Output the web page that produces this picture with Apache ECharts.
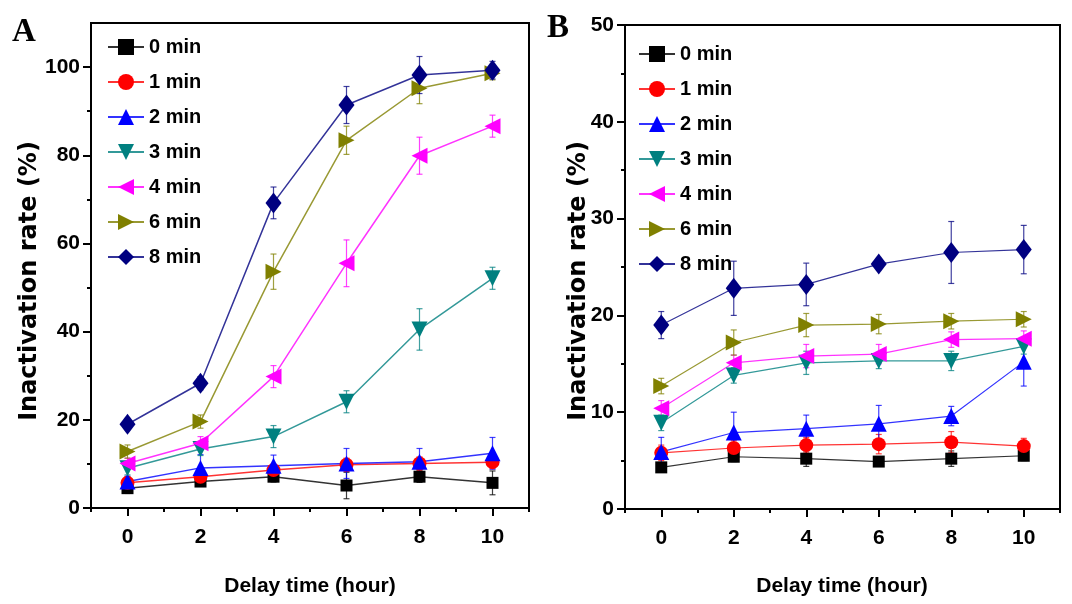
<!DOCTYPE html>
<html>
<head>
<meta charset="utf-8">
<script src="https://cdn.jsdelivr.net/npm/echarts@6/dist/echarts.min.js"></script>
<style>
html, body { margin: 0; padding: 0; background: #fff; }
#chart { width: 1072px; height: 604px; }
</style>
</head>
<body>
<div id="chart"></div>
<script>
// x values and tick labels
var hours = [0, 2, 4, 6, 8, 10];
var seriesNames = ['0 min', '1 min', '2 min', '3 min', '4 min', '6 min', '8 min'];
var xTicks = [0, 2, 4, 6, 8, 10];
var xMinorTicks = [-1, 1, 3, 5, 7, 9, 11];
var yTicksA = [0, 20, 40, 60, 80, 100];
var yMinorTicksA = [10, 30, 50, 70, 90];
var yTicksB = [0, 10, 20, 30, 40, 50];
var yMinorTicksB = [5, 15, 25, 35, 45];

// panel A (means and error bars, %)
var a0 = [4.5, 6.0, 7.1, 5.1, 7.1, 5.7];
var a0Err = [1.2, 1.0, 1.2, 3.0, 1.3, 2.7];
var a1 = [5.7, 7.1, 8.6, 9.8, 10.1, 10.4];
var a1Err = [1.0, 1.2, 1.2, 1.5, 1.5, 1.5];
var a2 = [6.0, 9.1, 9.6, 10.1, 10.5, 12.4];
var a2Err = [1.2, 3.0, 2.4, 3.4, 3.0, 3.6];
var a3 = [9.0, 13.4, 16.2, 24.1, 40.5, 52.1];
var a3Err = [1.5, 1.5, 2.5, 2.5, 4.7, 2.5];
var a4 = [10.1, 14.7, 29.8, 55.5, 79.9, 86.6];
var a4Err = [1.2, 1.5, 2.5, 5.3, 4.2, 2.5];
var a6 = [12.8, 19.6, 53.6, 83.4, 95.2, 98.6];
var a6Err = [1.5, 1.5, 4.0, 3.2, 3.5, 1.5];
var a8 = [19.0, 28.3, 69.2, 91.4, 98.2, 99.3];
var a8Err = [1.2, 1.5, 3.6, 4.2, 4.2, 2.0];

// panel B
var b0 = [4.3, 5.4, 5.2, 4.9, 5.2, 5.5];
var b0Err = [0.5, 0.5, 0.8, 0.5, 0.8, 0.5];
var b1 = [5.8, 6.3, 6.6, 6.7, 6.9, 6.5];
var b1Err = [0.8, 0.8, 0.8, 1.0, 1.1, 0.8];
var b2 = [5.9, 7.9, 8.3, 8.8, 9.6, 15.2];
var b2Err = [1.5, 2.1, 1.4, 1.9, 1.0, 2.5];
var b3 = [8.9, 13.8, 15.1, 15.3, 15.3, 16.8];
var b3Err = [0.8, 0.8, 1.2, 0.8, 1.0, 0.8];
var b4 = [10.4, 15.1, 15.8, 16.0, 17.5, 17.6];
var b4Err = [0.8, 0.8, 1.2, 1.0, 0.8, 0.8];
var b6 = [12.7, 17.2, 19.0, 19.1, 19.4, 19.6];
var b6Err = [0.8, 1.3, 1.2, 1.0, 0.8, 0.8];
var b8 = [19.0, 22.8, 23.2, 25.3, 26.5, 26.8];
var b8Err = [1.4, 2.8, 2.2, 0.5, 3.2, 2.5];

var colors = ['#000000', '#ff0000', '#0000ff', '#008080', '#ff00ff', '#808000', '#000080'];
var symbols = ['rect', 'circle', 'triangle', 'triangle', 'triangle', 'triangle', 'diamond'];
var rotations = [0, 0, 0, 180, 90, -90, 0];
var sizes = [12, 14, 16, 16, 16, 16, [16, 21]];

var SANS = '"Liberation Sans", Arial, sans-serif';

var panelA = [[a0, a0Err], [a1, a1Err], [a2, a2Err], [a3, a3Err], [a4, a4Err], [a6, a6Err], [a8, a8Err]];
var panelB = [[b0, b0Err], [b1, b1Err], [b2, b2Err], [b3, b3Err], [b4, b4Err], [b6, b6Err], [b8, b8Err]];

function errSeries(name, means, errs, color, axisIdx) {
    return {
        type: 'custom',
        name: name + ' err',
        xAxisIndex: axisIdx, yAxisIndex: axisIdx,
        silent: true, z: 1,
        encode: { x: 0, y: [1, 2] },
        data: hours.map(function (h, i) { return [h, means[i] - errs[i], means[i] + errs[i]]; }),
        renderItem: function (params, api) {
            var top = api.coord([api.value(0), api.value(2)]);
            var bot = api.coord([api.value(0), api.value(1)]);
            var st = { stroke: color, lineWidth: 1.2, opacity: 0.75 };
            return {
                type: 'group',
                children: [
                    { type: 'line', shape: { x1: top[0], y1: top[1], x2: bot[0], y2: bot[1] }, style: st },
                    { type: 'line', shape: { x1: top[0] - 3, y1: top[1], x2: top[0] + 3, y2: top[1] }, style: st },
                    { type: 'line', shape: { x1: bot[0] - 3, y1: bot[1], x2: bot[0] + 3, y2: bot[1] }, style: st }
                ]
            };
        }
    };
}

function lineSeries(i, means, axisIdx, width) {
    return {
        type: 'line',
        name: seriesNames[i],
        xAxisIndex: axisIdx, yAxisIndex: axisIdx,
        z: 2,
        symbol: symbols[i],
        symbolRotate: rotations[i],
        symbolSize: sizes[i],
        lineStyle: { color: colors[i], width: width, opacity: 0.8 },
        itemStyle: { color: colors[i] },
        data: hours.map(function (h, k) { return [h, means[k]]; })
    };
}

var series = [];
[[panelA, 0, 1.5], [panelB, 2, 1.2]].forEach(function (p) {
    p[0].forEach(function (d, i) {
        series.push(errSeries(seriesNames[i], d[0], d[1], colors[i], p[1]));
    });
    p[0].forEach(function (d, i) {
        series.push(lineSeries(i, d[0], p[1], p[2]));
    });
});

var labelFont = { fontFamily: SANS, fontWeight: 'bold', fontSize: 21, color: '#000' };

function xMain(grid) {
    return {
        type: 'value', gridIndex: grid, min: -1, max: 11, position: 'bottom',
        axisLine: { onZero: false, lineStyle: { color: '#000', width: 2 } },
        axisTick: { customValues: xTicks, length: 8, lineStyle: { width: 2, color: '#000' } },
        axisLabel: Object.assign({ customValues: xTicks, margin: 19 }, labelFont),
        splitLine: { show: false }
    };
}
function xMinor(grid) {
    return {
        type: 'value', gridIndex: grid, min: -1, max: 11, position: 'bottom',
        axisLine: { show: false, onZero: false },
        axisTick: { customValues: xMinorTicks, length: 4, lineStyle: { width: 2, color: '#000' } },
        axisLabel: { show: false },
        splitLine: { show: false }
    };
}
function yMain(grid, max, ticks) {
    return {
        type: 'value', gridIndex: grid, min: 0, max: max, position: 'left',
        axisLine: { show: true, onZero: false, lineStyle: { color: '#000', width: 2 } },
        axisTick: { show: true, customValues: ticks, length: 8, lineStyle: { width: 2, color: '#000' } },
        axisLabel: Object.assign({ customValues: ticks, margin: 11 }, labelFont),
        splitLine: { show: false }
    };
}
function yMinor(grid, max, ticks) {
    return {
        type: 'value', gridIndex: grid, min: 0, max: max, position: 'left',
        axisLine: { show: false, onZero: false },
        axisTick: { show: true, customValues: ticks, length: 4, lineStyle: { width: 2, color: '#000' } },
        axisLabel: { show: false },
        splitLine: { show: false }
    };
}

function legend(left, top) {
    return {
        orient: 'vertical', left: left, top: top,
        itemWidth: 36, itemHeight: 20, itemGap: 13,
        selectedMode: false,
        textStyle: { fontFamily: SANS, fontWeight: 'bold', fontSize: 20, lineHeight: 22, color: '#000' },
        data: seriesNames
    };
}

var titleFontY = 'bold 24px "DejaVu Sans", sans-serif';
var titleFontX = 'bold 21px ' + SANS;

var option = {
    animation: false,
    backgroundColor: '#fff',
    grid: [
        { left: 91, top: 23, width: 438, height: 485, show: true, borderColor: '#000', borderWidth: 2 },
        { left: 625, top: 25, width: 435, height: 484, show: true, borderColor: '#000', borderWidth: 2 }
    ],
    xAxis: [xMain(0), xMinor(0), xMain(1), xMinor(1)],
    yAxis: [yMain(0, 110, yTicksA), yMinor(0, 110, yMinorTicksA), yMain(1, 50, yTicksB), yMinor(1, 50, yMinorTicksB)],
    legend: [legend(102, 31), legend(633, 38)],
    graphic: [
        { type: 'text', left: 12, top: 16, style: { text: 'A', font: 'bold 33px "Liberation Serif", serif', fill: '#000' } },
        { type: 'text', left: 547, top: 12, style: { text: 'B', font: 'bold 33px "Liberation Serif", serif', fill: '#000' } },
        { type: 'text', x: 30, y: 281, rotation: Math.PI / 2,
          style: { text: 'Inactivation rate (%)', font: titleFontY, fill: '#000', align: 'center', verticalAlign: 'middle' } },
        { type: 'text', x: 579, y: 281, rotation: Math.PI / 2,
          style: { text: 'Inactivation rate (%)', font: titleFontY, fill: '#000', align: 'center', verticalAlign: 'middle' } },
        { type: 'text', x: 310, y: 586,
          style: { text: 'Delay time (hour)', font: titleFontX, fill: '#000', align: 'center', verticalAlign: 'middle' } },
        { type: 'text', x: 842, y: 586,
          style: { text: 'Delay time (hour)', font: titleFontX, fill: '#000', align: 'center', verticalAlign: 'middle' } }
    ],
    series: series
};

var myChart = echarts.init(document.getElementById('chart'));
myChart.setOption(option);
</script>
</body>
</html>
